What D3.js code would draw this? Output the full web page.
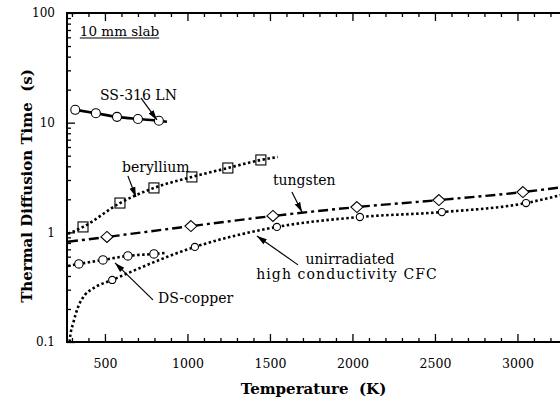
<!DOCTYPE html>
<html lang="en">
<head>
<meta charset="UTF-8">
<title>Thermal Diffusion Time</title>
<script src="https://cdnjs.cloudflare.com/ajax/libs/d3/7.8.5/d3.min.js"></script>
<style>
    body { margin: 0; background: #fff; }
    svg { font-family: "DejaVu Serif", serif; }
    .tick text { fill: #000; }
</style>
</head>
<body>
<div id="plot"></div>
<script>
    // values: temperature (K) -> diffusion time (s)
    const xTicks = [500, 1000, 1500, 2000, 2500, 3000];
    const yTicks = [0.1, 1, 10, 100];

    // SS-316 LN (solid, open circles)
    const ssLineT = [320, 445, 573, 700, 827, 876];
    const ssLineV = [13.1, 12.2, 11.3, 10.8, 10.4, 10.2];
    const ssMarkT = [320, 445, 573, 700, 827];
    const ssMarkV = [13.1, 12.2, 11.3, 10.8, 10.4];

    // beryllium (dotted, squares)
    const beLineT = [276, 367, 591, 797, 1027, 1245, 1445, 1548];
    const beLineV = [0.97, 1.12, 1.85, 2.54, 3.2, 3.86, 4.57, 4.87];
    const beMarkT = [367, 591, 797, 1027, 1245, 1445];
    const beMarkV = [1.12, 1.85, 2.54, 3.2, 3.86, 4.57];

    // tungsten (dash-dot, diamonds)
    const wLineT = [276, 512, 1021, 1518, 2027, 2524, 3033, 3270];
    const wLineV = [0.82, 0.908, 1.14, 1.41, 1.7, 1.97, 2.33, 2.58];
    const wMarkT = [512, 1021, 1518, 2027, 2524, 3033];
    const wMarkV = [0.908, 1.14, 1.41, 1.7, 1.97, 2.33];

    // unirradiated high conductivity CFC (dotted, small circles)
    const cfcLineT = [284, 288, 308, 338, 379, 429, 544, 1045, 1542, 2045, 2542, 3052, 3270];
    const cfcLineV = [0.09, 0.109, 0.149, 0.21, 0.269, 0.309, 0.368, 0.736, 1.12, 1.38, 1.53, 1.85, 2.2];
    const cfcMarkT = [544, 1045, 1542, 2045, 2542, 3052];
    const cfcMarkV = [0.368, 0.736, 1.12, 1.38, 1.53, 1.85];

    // DS-copper (dotted, circles)
    const cuLineT = [276, 342, 488, 639, 797, 876];
    const cuLineV = [0.494, 0.515, 0.56, 0.61, 0.635, 0.65];
    const cuMarkT = [342, 488, 639, 797];
    const cuMarkV = [0.515, 0.56, 0.61, 0.635];

    // labels and arrows, placed in data units
    const labels = [
        { text: "SS-316 LN", T: 470, v: 16.1, anchor: "start" },
        { text: "beryllium", T: 603, v: 3.55, anchor: "start" },
        { text: "tungsten", T: 1518, v: 2.7, anchor: "start" },
        { text: "unirradiated", T: 1985, v: 0.515, anchor: "middle" },
        { text: "high conductivity CFC", T: 1967, v: 0.376, anchor: "middle" },
        { text: "DS-copper", T: 821, v: 0.227, anchor: "start" }
    ];
    const arrows = [
        [718, 16.8, 815, 10.6],
        [639, 3.27, 688, 2.1],
        [1633, 2.33, 1694, 1.53],
        [1670, 0.505, 1421, 0.927],
        [791, 0.242, 561, 0.526]
    ];

    var margin = { top: 13, left: 67 },
        width = 495,
        height = 329;

    var svg = d3.select("#plot")
        .append("svg")
        .attr("width", 560)
        .attr("height", 400)
        .append("g")
        .attr("transform", "translate(" + margin.left + "," + margin.top + ")");

    var x = d3.scaleLinear().domain([270, 3270]).range([0, width]);
    var y = d3.scaleLog().domain([0.1, 100]).range([height, 0]);

    var zip = (a, b) => a.map((d, i) => [d, b[i]]);

    // defs: clip + arrow head
    var defs = svg.append("defs");
    defs.append("clipPath").attr("id", "clip")
        .append("rect").attr("width", width).attr("height", height);
    defs.append("marker")
        .attr("id", "head")
        .attr("markerUnits", "userSpaceOnUse")
        .attr("markerWidth", 11).attr("markerHeight", 8)
        .attr("refX", 10).attr("refY", 4)
        .attr("orient", "auto")
        .append("path").attr("d", "M0,1 L10,4 L0,7 Z").attr("fill", "#000");

    // (1) axes ____________________________________
    var minorX = d3.range(300, 3300, 100).filter(d => d % 500 != 0);
    var minorY = [];
    [0.1, 1, 10].forEach(p => { for (let k = 2; k < 10; k++) minorY.push(+(p * k).toPrecision(2)); });

    function styleAxis(g) {
        g.select(".domain").remove();
        g.selectAll(".tick line").attr("stroke", "#000").attr("stroke-width", 1.3);
    }

    svg.append("g").attr("transform", "translate(0," + height + ")")
        .call(d3.axisBottom(x).tickValues(xTicks).tickSizeInner(-8).tickSizeOuter(0).tickPadding(17).tickFormat(d3.format("d")))
        .call(styleAxis)
        .selectAll("text").attr("font-size", 12.5).attr("font-family", "DejaVu Serif");
    svg.append("g").attr("transform", "translate(0," + height + ")")
        .call(d3.axisBottom(x).tickValues(minorX).tickSizeInner(-4).tickSizeOuter(0).tickFormat(""))
        .call(styleAxis);
    svg.append("g")
        .call(d3.axisTop(x).tickValues(xTicks).tickSizeInner(-8).tickSizeOuter(0).tickFormat(""))
        .call(styleAxis);
    svg.append("g")
        .call(d3.axisTop(x).tickValues(minorX).tickSizeInner(-4).tickSizeOuter(0).tickFormat(""))
        .call(styleAxis);
    svg.append("g")
        .call(d3.axisLeft(y).tickValues(yTicks).tickSizeInner(-8).tickSizeOuter(0).tickPadding(12).tickFormat(d => String(d)))
        .call(styleAxis)
        .selectAll("text").attr("font-size", 12).attr("font-family", "DejaVu Serif");
    svg.append("g")
        .call(d3.axisLeft(y).tickValues(minorY).tickSizeInner(-4).tickSizeOuter(0).tickFormat(""))
        .call(styleAxis);

    // frame (right side falls off the picture)
    svg.append("path")
        .attr("d", "M" + (width + 2) + ",0H0V" + height + "H" + (width + 2))
        .attr("fill", "none").attr("stroke", "#000").attr("stroke-width", 2);

    // axis titles
    svg.append("text")
        .attr("x", width / 2 - 1).attr("y", 381)
        .attr("text-anchor", "middle")
        .attr("font-weight", "bold").attr("font-size", 15)
        .attr("xml:space", "preserve")
        .text("Temperature  (K)");
    svg.append("text")
        .attr("transform", "rotate(-90)")
        .attr("x", -173).attr("y", -35)
        .attr("text-anchor", "middle")
        .attr("font-weight", "bold").attr("font-size", 15)
        .attr("xml:space", "preserve")
        .text("Thermal Diffusion Time  (s)");

    // (2) lines ____________________________________
    var line = d3.line().x(d => x(d[0])).y(d => y(d[1])).curve(d3.curveMonotoneX);
    var plot = svg.append("g").attr("clip-path", "url(#clip)");

    function drawLine(T, V, dash, w) {
        plot.append("path")
            .datum(zip(T, V))
            .attr("d", line)
            .attr("fill", "none")
            .attr("stroke", "#000")
            .attr("stroke-width", w)
            .attr("stroke-dasharray", dash);
    }

    drawLine(ssLineT, ssLineV, null, 2.6);
    drawLine(wLineT, wLineV, "10,4,3,4", 2.4);
    drawLine(cfcLineT, cfcLineV, "2.5,2.5", 2.6);
    drawLine(cuLineT, cuLineV, "2.5,2.5", 2.6);

    // (3) markers ____________________________________
    function circles(T, V, r) {
        plot.append("g").selectAll("circle")
            .data(zip(T, V)).enter().append("circle")
            .attr("cx", d => x(d[0])).attr("cy", d => y(d[1]))
            .attr("r", r)
            .attr("fill", "#fff").attr("stroke", "#000").attr("stroke-width", 1.1);
    }
    circles(ssMarkT, ssMarkV, 4.5);
    circles(cfcMarkT, cfcMarkV, 3.6);
    circles(cuMarkT, cuMarkV, 4.2);

    plot.append("g").selectAll("path")
        .data(zip(wMarkT, wMarkV)).enter().append("path")
        .attr("d", "M0,-5.5L6,0L0,5.5L-6,0Z")
        .attr("transform", d => "translate(" + x(d[0]) + "," + y(d[1]) + ")")
        .attr("fill", "#fff").attr("stroke", "#000").attr("stroke-width", 1.1);

    plot.append("g").selectAll("rect")
        .data(zip(beMarkT, beMarkV)).enter().append("rect")
        .attr("x", d => x(d[0]) - 5).attr("y", d => y(d[1]) - 5)
        .attr("width", 10).attr("height", 10)
        .attr("fill", "#fff").attr("stroke", "#000").attr("stroke-width", 1.1);
    // the beryllium dots run through its squares
    drawLine(beLineT, beLineV, "2.5,2.5", 2.6);

    // (4) annotations ____________________________________
    svg.append("g").selectAll("text")
        .data(labels).enter().append("text")
        .attr("x", d => x(d.T)).attr("y", d => y(d.v))
        .attr("text-anchor", d => d.anchor)
        .attr("font-size", 14)
        .attr("letter-spacing", d => d.text.length > 15 ? 1.1 : 0)
        .text(d => d.text);

    svg.append("g").selectAll("line")
        .data(arrows).enter().append("line")
        .attr("x1", d => x(d[0])).attr("y1", d => y(d[1]))
        .attr("x2", d => x(d[2])).attr("y2", d => y(d[3]))
        .attr("stroke", "#000").attr("stroke-width", 1.2)
        .attr("marker-end", "url(#head)");

    var slab = svg.append("text")
        .attr("x", x(348)).attr("y", y(61.7))
        .attr("font-size", 13.5)
        .text("10 mm slab");
    var len = slab.node().getComputedTextLength();
    svg.append("line")
        .attr("x1", x(348)).attr("x2", x(348) + len)
        .attr("y1", y(61.7) + 2).attr("y2", y(61.7) + 2)
        .attr("stroke", "#000").attr("stroke-width", 1);
</script>
</body>
</html>
